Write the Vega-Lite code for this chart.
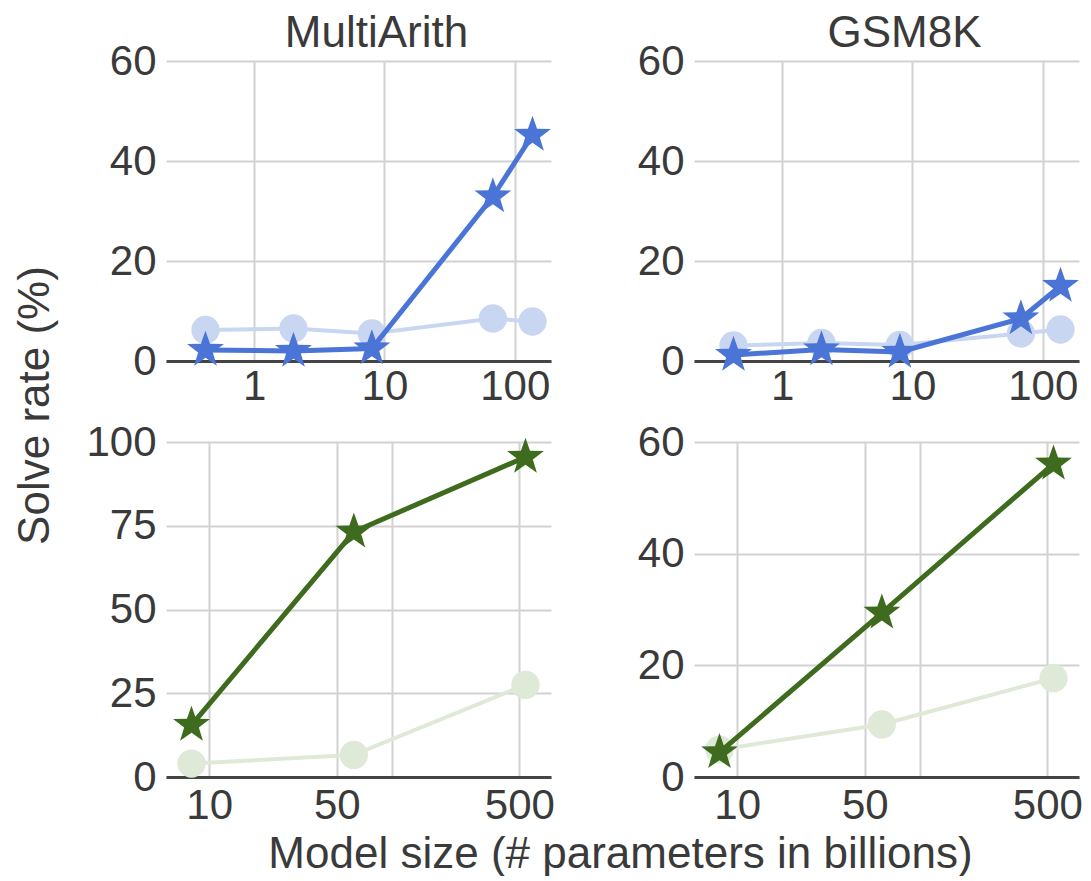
{
  "$schema": "https://vega.github.io/schema/vega-lite/v6.json",
  "background": "white",
  "padding": {"left": 13, "top": 12, "right": 0, "bottom": 0},
  "autosize": {"type": "pad"},
  "datasets": {
    "lamda_multiarith": [
      {"size": 0.422, "rate": 6.2, "method": "Standard"},
      {"size": 2, "rate": 6.5, "method": "Standard"},
      {"size": 8, "rate": 5.5, "method": "Standard"},
      {"size": 68, "rate": 8.5, "method": "Standard"},
      {"size": 137, "rate": 7.9, "method": "Standard"},
      {"size": 0.422, "rate": 2.2, "method": "CoT"},
      {"size": 2, "rate": 2.0, "method": "CoT"},
      {"size": 8, "rate": 2.5, "method": "CoT"},
      {"size": 68, "rate": 32.9, "method": "CoT"},
      {"size": 137, "rate": 45.2, "method": "CoT"}
    ],
    "lamda_gsm8k": [
      {"size": 0.422, "rate": 3.1, "method": "Standard"},
      {"size": 2, "rate": 3.6, "method": "Standard"},
      {"size": 8, "rate": 3.2, "method": "Standard"},
      {"size": 68, "rate": 5.5, "method": "Standard"},
      {"size": 137, "rate": 6.3, "method": "Standard"},
      {"size": 0.422, "rate": 1.2, "method": "CoT"},
      {"size": 2, "rate": 2.3, "method": "CoT"},
      {"size": 8, "rate": 1.8, "method": "CoT"},
      {"size": 68, "rate": 8.5, "method": "CoT"},
      {"size": 137, "rate": 15.0, "method": "CoT"}
    ],
    "palm_multiarith": [
      {"size": 8, "rate": 4.0, "method": "Standard"},
      {"size": 62, "rate": 6.6, "method": "Standard"},
      {"size": 540, "rate": 27.5, "method": "Standard"},
      {"size": 8, "rate": 15.5, "method": "CoT"},
      {"size": 62, "rate": 73.2, "method": "CoT"},
      {"size": 540, "rate": 95.5, "method": "CoT"}
    ],
    "palm_gsm8k": [
      {"size": 8, "rate": 4.9, "method": "Standard"},
      {"size": 62, "rate": 9.4, "method": "Standard"},
      {"size": 540, "rate": 17.7, "method": "Standard"},
      {"size": 8, "rate": 4.4, "method": "CoT"},
      {"size": 62, "rate": 29.4, "method": "CoT"},
      {"size": 540, "rate": 56.1, "method": "CoT"}
    ]
  },
  "columns": 2,
  "align": "each",
  "bounds": "flush",
  "spacing": {"row": 81, "column": 143},
  "concat": [
    {
      "width": 385, "height": 300,
      "title": {"text": "MultiArith", "dx": 18, "offset": -16},
      "data": {"name": "lamda_multiarith"},
      "encoding": {
        "x": {"field": "size", "type": "quantitative", "scale": {"type": "log", "domain": [0.21, 190], "nice": false},
              "axis": {"values": [1, 10, 100], "format": "d", "title": null, "labelPadding": 5}},
        "y": {"field": "rate", "type": "quantitative", "scale": {"domain": [0, 60], "nice": false},
              "axis": {"values": [0, 20, 40, 60], "title": null}}
      },
      "layer": [
        {"transform": [{"filter": "datum.method == 'Standard'"}], "mark": {"type": "line", "color": "#c9d6f2", "strokeWidth": 4}, "encoding": {}},
        {"transform": [{"filter": "datum.method == 'Standard'"}], "mark": {"type": "point", "shape": "circle", "filled": true, "size": 800, "color": "#c9d6f2", "opacity": 1}, "encoding": {}},
        {"transform": [{"filter": "datum.method == 'CoT'"}], "mark": {"type": "line", "color": "#4a74d6", "strokeWidth": 5}, "encoding": {}},
        {"transform": [{"filter": "datum.method == 'CoT'"}], "mark": {"type": "point", "shape": "M0,-1L0.2351,-0.3236L0.9511,-0.309L0.3804,0.1236L0.5878,0.809L0,0.4L-0.5878,0.809L-0.3804,0.1236L-0.9511,-0.309L-0.2351,-0.3236Z", "filled": true, "size": 1500, "color": "#4a74d6", "opacity": 1}, "encoding": {}}
      ]
    },
    {
      "width": 385, "height": 300,
      "title": {"text": "GSM8K", "dx": 18, "offset": -16},
      "data": {"name": "lamda_gsm8k"},
      "encoding": {
        "x": {"field": "size", "type": "quantitative", "scale": {"type": "log", "domain": [0.21, 190], "nice": false},
              "axis": {"values": [1, 10, 100], "format": "d", "title": null, "labelPadding": 5}},
        "y": {"field": "rate", "type": "quantitative", "scale": {"domain": [0, 60], "nice": false},
              "axis": {"values": [0, 20, 40, 60], "title": null}}
      },
      "layer": [
        {"transform": [{"filter": "datum.method == 'Standard'"}], "mark": {"type": "line", "color": "#c9d6f2", "strokeWidth": 4}, "encoding": {}},
        {"transform": [{"filter": "datum.method == 'Standard'"}], "mark": {"type": "point", "shape": "circle", "filled": true, "size": 800, "color": "#c9d6f2", "opacity": 1}, "encoding": {}},
        {"transform": [{"filter": "datum.method == 'CoT'"}], "mark": {"type": "line", "color": "#4a74d6", "strokeWidth": 5}, "encoding": {}},
        {"transform": [{"filter": "datum.method == 'CoT'"}], "mark": {"type": "point", "shape": "M0,-1L0.2351,-0.3236L0.9511,-0.309L0.3804,0.1236L0.5878,0.809L0,0.4L-0.5878,0.809L-0.3804,0.1236L-0.9511,-0.309L-0.2351,-0.3236Z", "filled": true, "size": 1500, "color": "#4a74d6", "opacity": 1}, "encoding": {}}
      ]
    },
    {
      "width": 385, "height": 335,
      "data": {"name": "palm_multiarith"},
      "encoding": {
        "x": {"field": "size", "type": "quantitative", "scale": {"type": "log", "domain": [5.8, 745], "nice": false},
              "axis": {"values": [10, 50, 100, 500], "format": "d", "labelExpr": "datum.value == 100 ? '' : datum.label",
                       "title": "Model size (# parameters in billions)", "titleX": 454, "titleY": 90, "titleAlign": "center", "titleBaseline": "alphabetic"}},
        "y": {"field": "rate", "type": "quantitative", "scale": {"domain": [0, 100], "nice": false},
              "axis": {"values": [0, 25, 50, 75, 100], "title": "Solve rate (%)", "titleX": -131, "titleY": -37, "titleAngle": -90, "titleAlign": "center", "titleBaseline": "middle"}}
      },
      "layer": [
        {"transform": [{"filter": "datum.method == 'Standard'"}], "mark": {"type": "line", "color": "#dfe9d7", "strokeWidth": 4}, "encoding": {}},
        {"transform": [{"filter": "datum.method == 'Standard'"}], "mark": {"type": "point", "shape": "circle", "filled": true, "size": 800, "color": "#dfe9d7", "opacity": 1}, "encoding": {}},
        {"transform": [{"filter": "datum.method == 'CoT'"}], "mark": {"type": "line", "color": "#3e6b1e", "strokeWidth": 5}, "encoding": {}},
        {"transform": [{"filter": "datum.method == 'CoT'"}], "mark": {"type": "point", "shape": "M0,-1L0.2351,-0.3236L0.9511,-0.309L0.3804,0.1236L0.5878,0.809L0,0.4L-0.5878,0.809L-0.3804,0.1236L-0.9511,-0.309L-0.2351,-0.3236Z", "filled": true, "size": 1500, "color": "#3e6b1e", "opacity": 1}, "encoding": {}}
      ]
    },
    {
      "width": 385, "height": 335,
      "data": {"name": "palm_gsm8k"},
      "encoding": {
        "x": {"field": "size", "type": "quantitative", "scale": {"type": "log", "domain": [5.8, 745], "nice": false},
              "axis": {"values": [10, 50, 100, 500], "format": "d", "labelExpr": "datum.value == 100 ? '' : datum.label", "title": null}},
        "y": {"field": "rate", "type": "quantitative", "scale": {"domain": [0, 60], "nice": false},
              "axis": {"values": [0, 20, 40, 60], "title": null}}
      },
      "layer": [
        {"transform": [{"filter": "datum.method == 'Standard'"}], "mark": {"type": "line", "color": "#dfe9d7", "strokeWidth": 4}, "encoding": {}},
        {"transform": [{"filter": "datum.method == 'Standard'"}], "mark": {"type": "point", "shape": "circle", "filled": true, "size": 800, "color": "#dfe9d7", "opacity": 1}, "encoding": {}},
        {"transform": [{"filter": "datum.method == 'CoT'"}], "mark": {"type": "line", "color": "#3e6b1e", "strokeWidth": 5}, "encoding": {}},
        {"transform": [{"filter": "datum.method == 'CoT'"}], "mark": {"type": "point", "shape": "M0,-1L0.2351,-0.3236L0.9511,-0.309L0.3804,0.1236L0.5878,0.809L0,0.4L-0.5878,0.809L-0.3804,0.1236L-0.9511,-0.309L-0.2351,-0.3236Z", "filled": true, "size": 1500, "color": "#3e6b1e", "opacity": 1}, "encoding": {}}
      ]
    }
  ],
  "config": {
    "font": "Liberation Sans",
    "view": {"stroke": null},
    "axis": {
      "labelFont": "Liberation Sans", "labelFontSize": 42, "labelColor": "#3a3a3a",
      "titleFont": "Liberation Sans", "titleFontSize": 44, "titleColor": "#3a3a3a", "titleFontWeight": "normal",
      "grid": true, "gridColor": "#d2d2d2", "gridWidth": 2,
      "ticks": false, "domain": false, "labelPadding": 10
    },
    "axisX": {"domain": true, "domainColor": "#444444", "domainWidth": 3, "labelPadding": 8},
    "title": {"font": "Liberation Sans", "fontSize": 44, "fontWeight": "normal", "color": "#3a3a3a", "anchor": "middle", "frame": "group"}
  }
}
